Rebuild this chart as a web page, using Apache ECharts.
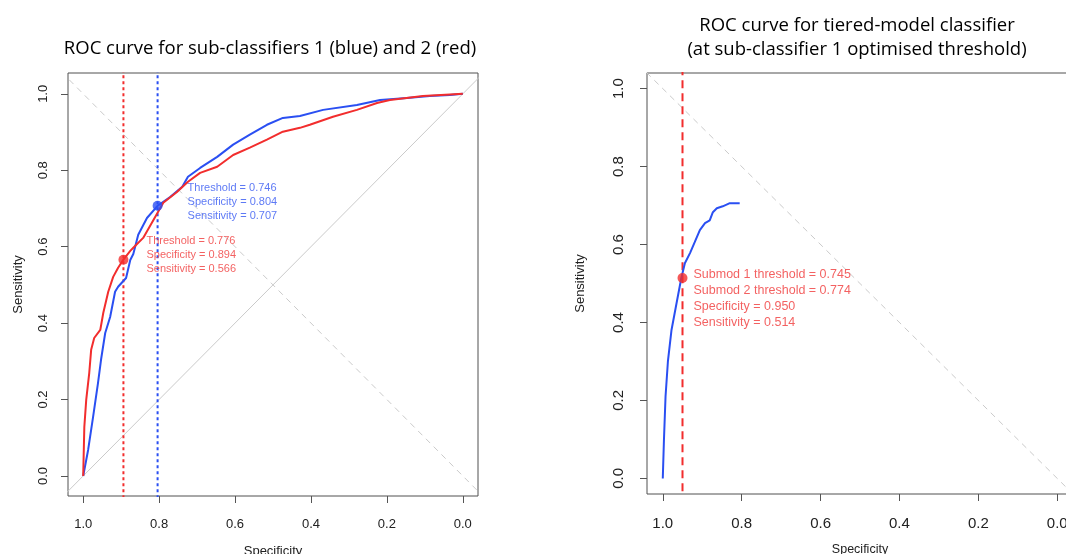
<!DOCTYPE html>
<html>
<head>
<meta charset="utf-8">
<script src="https://cdn.jsdelivr.net/npm/echarts@6/dist/echarts.min.js"></script>
<style>
html,body{margin:0;padding:0;overflow:hidden;background:#fff}
#c{width:1080px;height:554px}
</style>
</head>
<body>
<div id="c"></div>
<script>
// ---------- data ----------
const tickValues = [0, 0.2, 0.4, 0.6, 0.8, 1.0];

// Sub-classifier 1 (blue) ROC curve
const blueSpec = [1.000, 0.987, 0.974, 0.961, 0.953, 0.942, 0.929, 0.916, 0.908, 0.887, 0.876, 0.868, 0.855, 0.832, 0.804, 0.771, 0.739, 0.724, 0.692, 0.647, 0.605, 0.561, 0.516, 0.474, 0.429, 0.368, 0.279, 0.218, 0.147, 0.087, 0.034, 0.000];
const blueSens = [0.000, 0.068, 0.154, 0.243, 0.304, 0.374, 0.416, 0.482, 0.495, 0.518, 0.565, 0.581, 0.631, 0.675, 0.707, 0.730, 0.757, 0.783, 0.806, 0.835, 0.867, 0.893, 0.919, 0.937, 0.942, 0.958, 0.971, 0.984, 0.989, 0.994, 0.997, 1.000];

// Sub-classifier 2 (red) ROC curve
const redSpec = [1.000, 0.997, 0.992, 0.984, 0.979, 0.971, 0.955, 0.947, 0.934, 0.921, 0.908, 0.894, 0.876, 0.868, 0.842, 0.789, 0.753, 0.724, 0.692, 0.647, 0.605, 0.561, 0.516, 0.474, 0.429, 0.403, 0.342, 0.279, 0.226, 0.192, 0.105, 0.034, 0.000];
const redSens = [0.000, 0.128, 0.199, 0.270, 0.330, 0.361, 0.382, 0.427, 0.482, 0.521, 0.545, 0.566, 0.589, 0.597, 0.623, 0.715, 0.743, 0.770, 0.793, 0.809, 0.840, 0.859, 0.880, 0.901, 0.911, 0.919, 0.940, 0.958, 0.976, 0.984, 0.994, 0.998, 1.000];

// Tiered-model ROC curve
const tierSpec = [1.000, 0.997, 0.993, 0.987, 0.978, 0.965, 0.953, 0.944, 0.931, 0.919, 0.906, 0.893, 0.881, 0.873, 0.863, 0.848, 0.830, 0.805];
const tierSens = [0.000, 0.100, 0.210, 0.300, 0.380, 0.450, 0.514, 0.552, 0.578, 0.606, 0.637, 0.655, 0.662, 0.683, 0.693, 0.698, 0.706, 0.706];

// optimal thresholds: [threshold, specificity, sensitivity]
const blueOpt = [0.746, 0.804, 0.707];
const redOpt = [0.776, 0.894, 0.566];
// tiered: [submod1 threshold, submod2 threshold, specificity, sensitivity]
const tierOpt = [0.745, 0.774, 0.950, 0.514];

const leftTitle = 'ROC curve for sub-classifiers 1 (blue) and 2 (red)';
const rightTitle = 'ROC curve for tiered-model classifier\n(at sub-classifier 1 optimised threshold)';

// ---------- build ----------
const BLUE = '#2a4ff2';
const RED = '#f22d2d';
const BLUE_TXT = '#3557f2';
const RED_TXT = '#f03a3a';
const GRAY = '#cacaca';
const FONT = '"Liberation Sans", Arial, Helvetica, sans-serif';

const pairs = (xs, ys) => xs.map((x, i) => [x, ys[i]]);
const f3 = v => v.toFixed(3);

function xAxis(gi, fs, nfs, ngap, margin) {
  return {
    type: 'value', gridIndex: gi, min: -0.04, max: 1.04, inverse: true, position: 'bottom',
    name: 'Specificity', nameLocation: 'middle', nameGap: ngap,
    nameTextStyle: { fontSize: nfs, color: '#222', fontFamily: FONT },
    axisLine: { show: false, onZero: false },
    axisTick: { show: true, inside: false, length: 7, customValues: tickValues, lineStyle: { color: '#555', width: 1 } },
    axisLabel: { customValues: tickValues, formatter: v => v.toFixed(1), fontSize: fs, color: '#222', margin: margin, fontFamily: FONT },
    splitLine: { show: false }
  };
}
function yAxis(gi, mn, mx, fs, nfs, ngap, margin) {
  return {
    type: 'value', gridIndex: gi, min: mn, max: mx, position: 'left',
    name: 'Sensitivity', nameLocation: 'middle', nameGap: ngap,
    nameTextStyle: { fontSize: nfs, color: '#222', fontFamily: FONT },
    axisLine: { show: false, onZero: false },
    axisTick: { show: true, inside: false, length: 7, customValues: tickValues, lineStyle: { color: '#555', width: 1 } },
    axisLabel: { customValues: tickValues, formatter: v => v.toFixed(1), fontSize: fs, color: '#222', margin: margin, rotate: 90, fontFamily: FONT },
    splitLine: { show: false }
  };
}
function lineSeries(gi, data, color, width, type, z) {
  return {
    type: 'line', xAxisIndex: gi, yAxisIndex: gi, data: data, symbol: 'none', silent: true,
    clip: true, animation: false, z: z || 2,
    lineStyle: { color: color, width: width, type: type || 'solid' }
  };
}

const option = {
  animation: false,
  backgroundColor: '#fff',
  title: [
    { text: leftTitle, left: 270, top: 39, textAlign: 'center', padding: 0,
      textStyle: { fontSize: 18.5, fontWeight: 'normal', color: '#000', fontFamily: '"Open Sans", sans-serif' } },
    { text: rightTitle, left: 857, top: 14, textAlign: 'center', padding: 0,
      textStyle: { fontSize: 18.5, fontWeight: 'normal', color: '#000', lineHeight: 24, fontFamily: '"Open Sans", sans-serif' } }
  ],
  grid: [
    { left: 68, top: 73, width: 410, height: 423, outerBoundsMode: 'none', containLabel: false, show: true, borderColor: '#505050', borderWidth: 1, backgroundColor: 'transparent' },
    { left: 647, top: 73, width: 426, height: 421, outerBoundsMode: 'none', containLabel: false, show: true, borderColor: '#505050', borderWidth: 1, backgroundColor: 'transparent' }
  ],
  xAxis: [ xAxis(0, 13, 13, 49, 22), xAxis(1, 15, 12.5, 49, 22) ],
  yAxis: [ yAxis(0, -0.0525, 1.0545, 13, 13, 43, 18), yAxis(1, -0.04, 1.04, 15, 13, 60, 21) ],
  series: [
    // left panel
    lineSeries(0, [[1.2, -0.2], [-0.2, 1.2]], GRAY, 1),
    lineSeries(0, [[1.2, 1.2], [-0.2, -0.2]], GRAY, 1, [6, 5]),
    lineSeries(0, [[redOpt[1], -0.2], [redOpt[1], 1.2]], RED, 2, [3, 3]),
    lineSeries(0, [[blueOpt[1], -0.2], [blueOpt[1], 1.2]], BLUE, 2, [3, 3]),
    lineSeries(0, pairs(blueSpec, blueSens), BLUE, 2, 'solid', 3),
    lineSeries(0, pairs(redSpec, redSens), RED, 2, 'solid', 4),
    {
      type: 'scatter', xAxisIndex: 0, yAxisIndex: 0, symbolSize: 10, z: 5, silent: true,
      data: [[blueOpt[1], blueOpt[2]]], itemStyle: { color: BLUE },
      label: { show: true, position: 'inside', align: 'left', verticalAlign: 'middle', offset: [30, -4],
        color: BLUE_TXT, fontSize: 11, lineHeight: 14, fontFamily: FONT,
        formatter: () => 'Threshold = ' + f3(blueOpt[0]) + '\nSpecificity = ' + f3(blueOpt[1]) + '\nSensitivity = ' + f3(blueOpt[2]) }
    },
    {
      type: 'scatter', xAxisIndex: 0, yAxisIndex: 0, symbolSize: 10, z: 5, silent: true,
      data: [[redOpt[1], redOpt[2]]], itemStyle: { color: RED },
      label: { show: true, position: 'inside', align: 'left', verticalAlign: 'middle', offset: [23, -5],
        color: RED_TXT, fontSize: 11, lineHeight: 14, fontFamily: FONT,
        formatter: () => 'Threshold = ' + f3(redOpt[0]) + '\nSpecificity = ' + f3(redOpt[1]) + '\nSensitivity = ' + f3(redOpt[2]) }
    },
    // right panel
    lineSeries(1, [[1.2, 1.2], [-0.2, -0.2]], GRAY, 1, [6, 5]),
    lineSeries(1, [[tierOpt[2], -0.2], [tierOpt[2], 1.2]], RED, 2, [8, 5]),
    lineSeries(1, pairs(tierSpec, tierSens), BLUE, 2, 'solid', 3),
    {
      type: 'scatter', xAxisIndex: 1, yAxisIndex: 1, symbolSize: 10, z: 5, silent: true,
      data: [[tierOpt[2], tierOpt[3]]], itemStyle: { color: RED },
      label: { show: true, position: 'inside', align: 'left', verticalAlign: 'middle', offset: [11, 21],
        color: RED_TXT, fontSize: 12.5, lineHeight: 16, fontFamily: FONT,
        formatter: () => 'Submod 1 threshold = ' + f3(tierOpt[0]) + '\nSubmod 2 threshold = ' + f3(tierOpt[1]) +
          '\nSpecificity = ' + f3(tierOpt[2]) + '\nSensitivity = ' + f3(tierOpt[3]) }
    }
  ]
};

const chart = echarts.init(document.getElementById('c'), null, { renderer: 'canvas' });
chart.setOption(option);
</script>
</body>
</html>
